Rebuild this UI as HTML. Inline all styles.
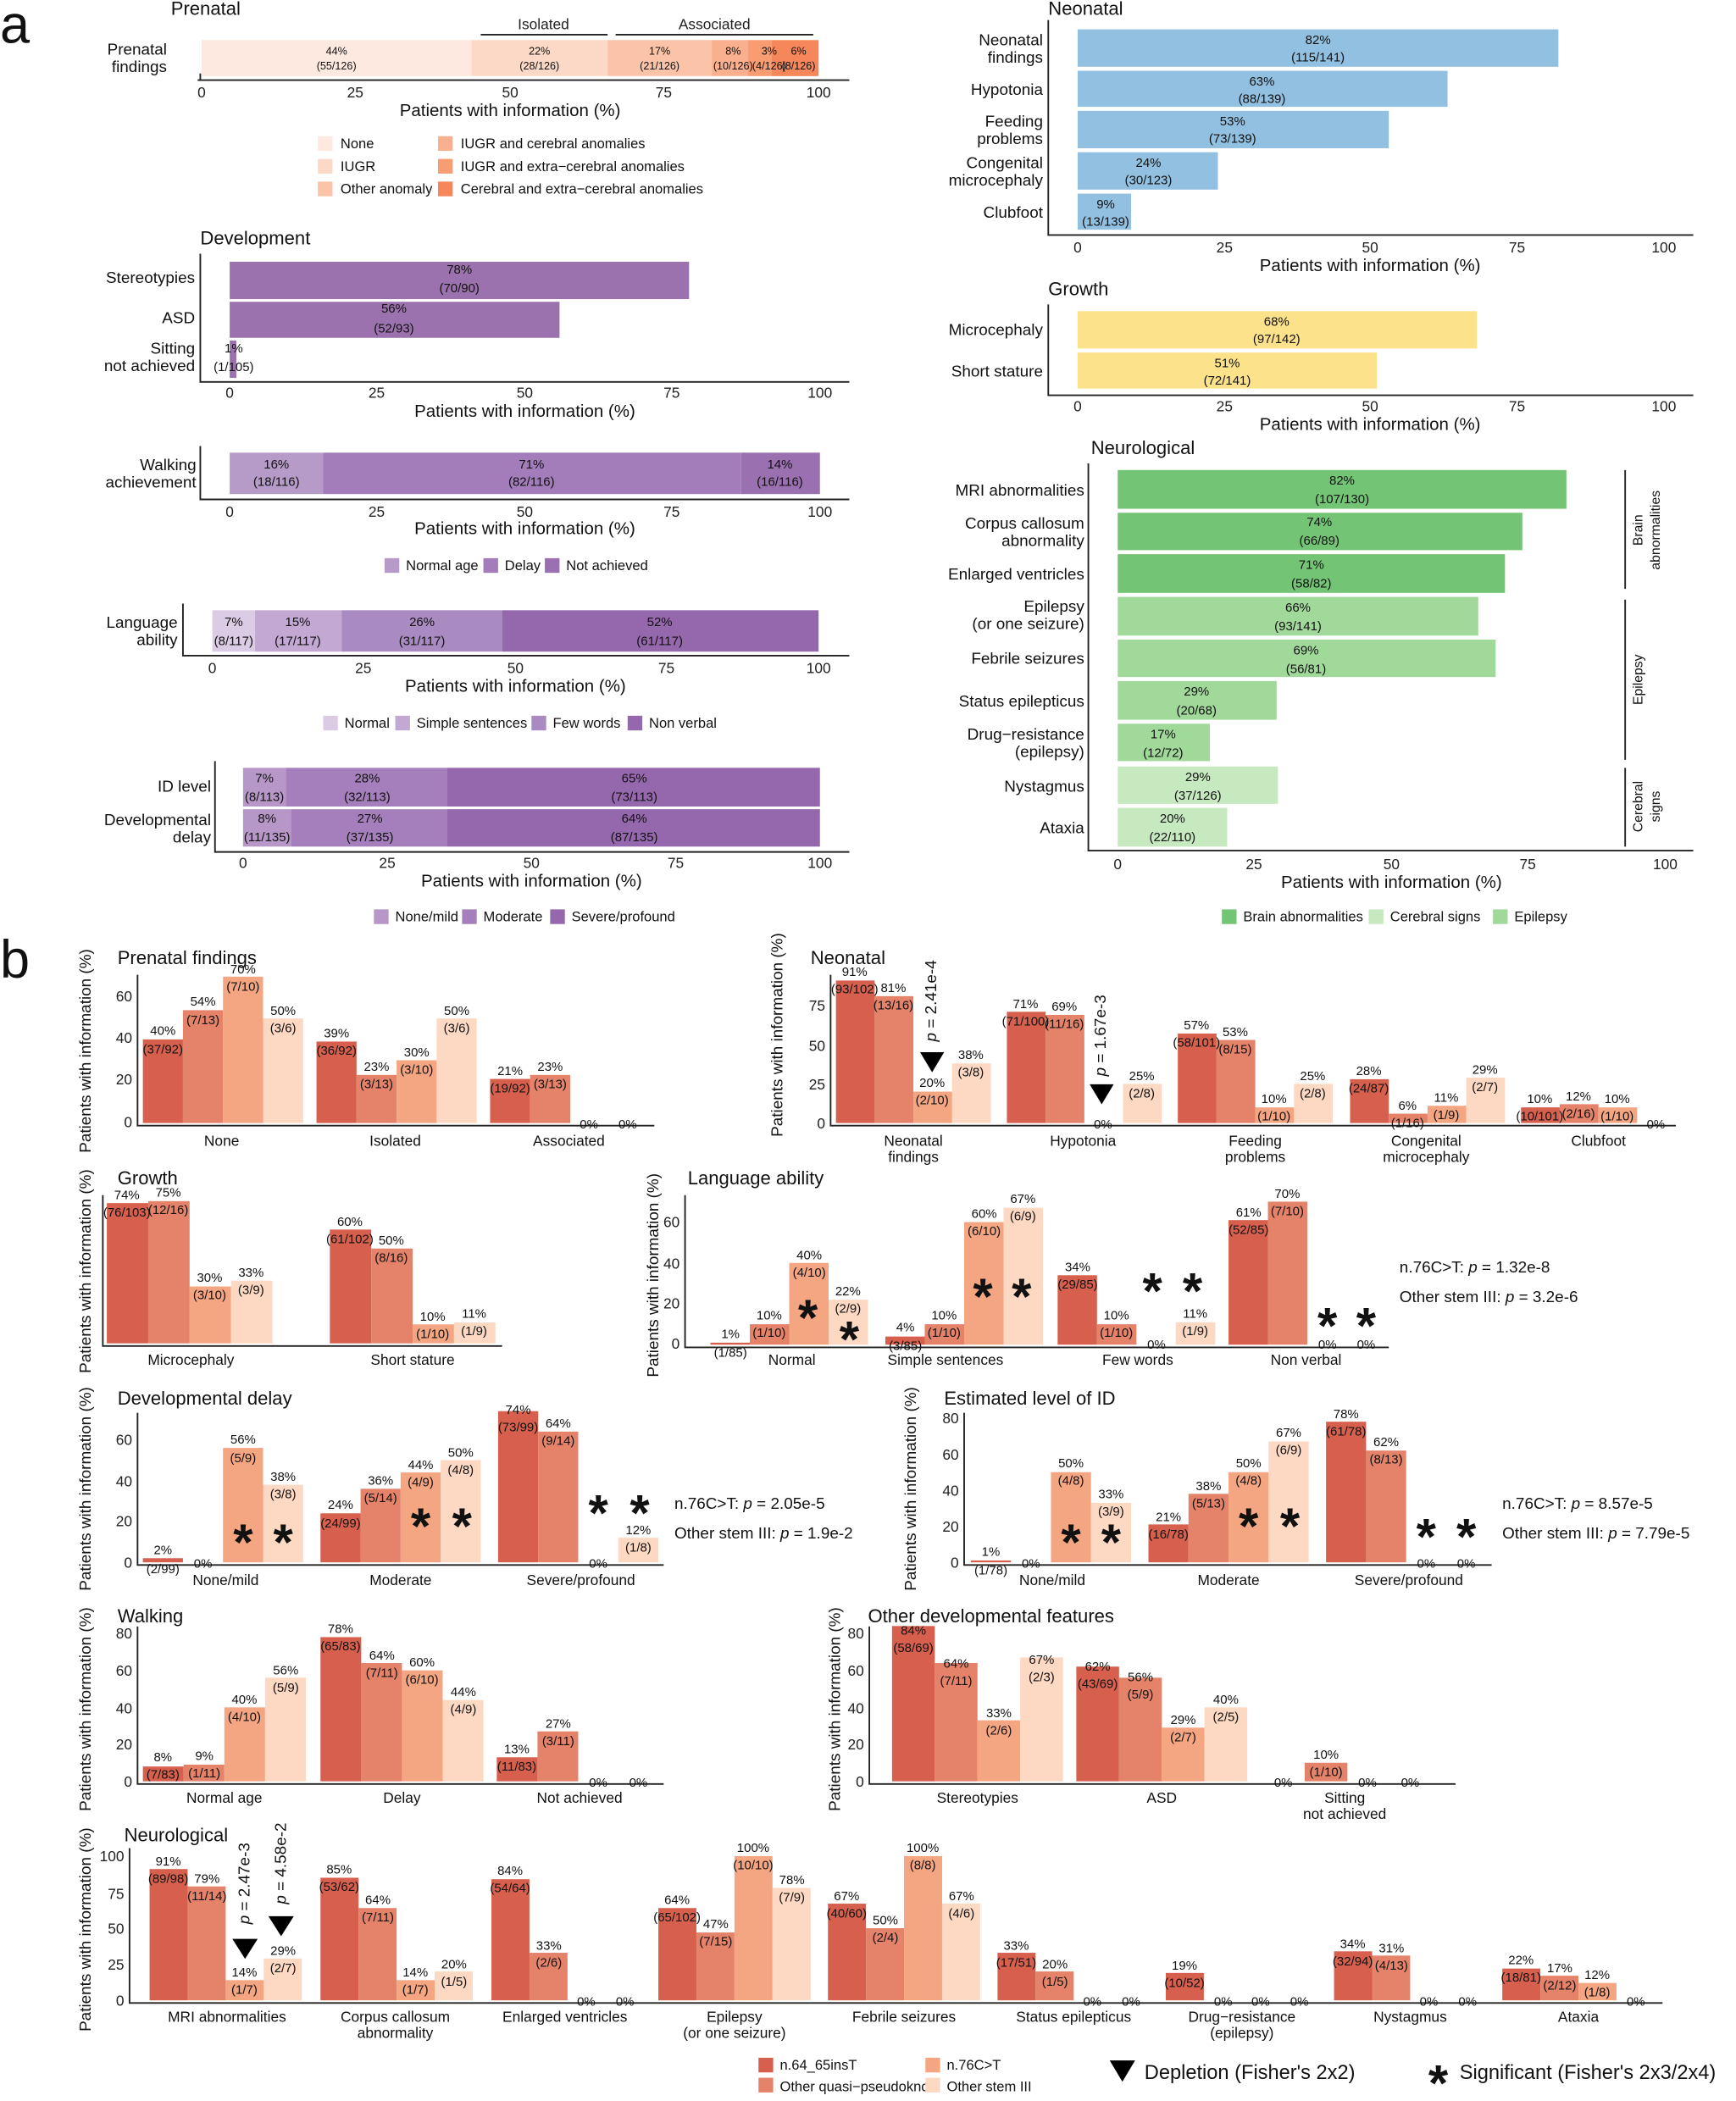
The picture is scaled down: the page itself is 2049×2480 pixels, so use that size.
<!DOCTYPE html>
<html><head><meta charset="utf-8"><style>
html,body{margin:0;padding:0;background:#fff}
svg{display:block}
text{font-family:"Liberation Sans",sans-serif;fill:#111}
.t{font-size:9.5px;text-anchor:middle}
.tk{font-size:11px;text-anchor:middle;fill:#222}
.tkr{font-size:11px;text-anchor:end;fill:#222}
.ti{font-size:14px}
.at{font-size:13px;text-anchor:middle}
.yl{font-size:12px;text-anchor:end}
.cl{font-size:11px;text-anchor:middle}
.lg{font-size:10.5px}
.ax{stroke:#222;stroke-width:1.2;fill:none}
.c1{fill:#d6604d}.c2{fill:#e4836a}.c3{fill:#f4a582}.c4{fill:#fdd8c2}
.pv{font-size:12px}
.ast{font-size:38px;text-anchor:middle;font-weight:bold}
</style></head><body>
<svg width="2049" height="2480" viewBox="0 0 1300 1573.4" preserveAspectRatio="none" xmlns="http://www.w3.org/2000/svg">
<text x="0" y="32" style="font-size:40px">a</text>
<text x="0" y="732" style="font-size:40px">b</text>

<!-- PRENATAL -->
<text class="ti" x="128" y="11">Prenatal</text>
<text class="tk" x="407" y="22">Isolated</text>
<line x1="360" y1="26" x2="455" y2="26" class="ax"/>
<text class="tk" x="535" y="22">Associated</text>
<line x1="461" y1="26" x2="609" y2="26" class="ax"/>
<rect x="151" y="30" width="202" height="27" fill="#fde9df"/>
<rect x="353" y="30" width="102" height="27" fill="#fcd9c6"/>
<rect x="455" y="30" width="78" height="27" fill="#fbc4a8"/>
<rect x="533" y="30" width="27" height="27" fill="#f9b08e"/>
<rect x="560" y="30" width="18" height="27" fill="#f89c72"/>
<rect x="578" y="30" width="35" height="27" fill="#f6875a"/>
<g class="t" style="font-size:8px">
<text class="t" x="252" y="41" style="font-size:8px">44%</text><text class="t" x="252" y="52" style="font-size:8px">(55/126)</text>
<text class="t" x="404" y="41" style="font-size:8px">22%</text><text class="t" x="404" y="52" style="font-size:8px">(28/126)</text>
<text class="t" x="494" y="41" style="font-size:8px">17%</text><text class="t" x="494" y="52" style="font-size:8px">(21/126)</text>
<text class="t" x="549" y="41" style="font-size:8px">8%</text><text class="t" x="549" y="52" style="font-size:8px">(10/126)</text>
<text class="t" x="576" y="41" style="font-size:8px">3%</text><text class="t" x="576" y="52" style="font-size:8px">(4/126)</text>
<text class="t" x="598" y="41" style="font-size:8px">6%</text><text class="t" x="598" y="52" style="font-size:8px">(8/126)</text>
</g>
<line x1="150" y1="55" x2="150" y2="60" class="ax"/>
<path d="M148 60H636" class="ax"/>
<text class="tk" x="151" y="73">0</text><text class="tk" x="266" y="73">25</text><text class="tk" x="382" y="73">50</text><text class="tk" x="497" y="73">75</text><text class="tk" x="613" y="73">100</text>
<text class="at" x="382" y="87">Patients with information (%)</text>
<text class="yl" x="125" y="41">Prenatal</text><text class="yl" x="125" y="54">findings</text>
<rect x="238" y="102" width="11" height="11" fill="#fde9df"/><text class="lg" x="255" y="111">None</text>
<rect x="238" y="119" width="11" height="11" fill="#fcd9c6"/><text class="lg" x="255" y="128">IUGR</text>
<rect x="238" y="136" width="11" height="11" fill="#fbc4a8"/><text class="lg" x="255" y="145">Other anomaly</text>
<rect x="328" y="102" width="11" height="11" fill="#f9b08e"/><text class="lg" x="345" y="111">IUGR and cerebral anomalies</text>
<rect x="328" y="119" width="11" height="11" fill="#f89c72"/><text class="lg" x="345" y="128">IUGR and extra−cerebral anomalies</text>
<rect x="328" y="136" width="11" height="11" fill="#f6875a"/><text class="lg" x="345" y="145">Cerebral and extra−cerebral anomalies</text>

<!-- DEVELOPMENT -->
<text class="ti" x="150" y="183">Development</text>
<rect x="172" y="196" width="344" height="28" fill="#9b72ae"/>
<rect x="172" y="226" width="247" height="27" fill="#9b72ae"/>
<rect x="172" y="255" width="5" height="28" fill="#9b72ae"/>
<text class="t" x="344" y="205">78%</text><text class="t" x="344" y="219">(70/90)</text>
<text class="t" x="295" y="234">56%</text><text class="t" x="295" y="249">(52/93)</text>
<text class="t" x="175" y="264">1%</text><text class="t" x="175" y="278">(1/105)</text>
<path d="M150 190V286H636" class="ax"/>
<text class="tk" x="172" y="298">0</text><text class="tk" x="282" y="298">25</text><text class="tk" x="393" y="298">50</text><text class="tk" x="503" y="298">75</text><text class="tk" x="614" y="298">100</text>
<text class="at" x="393" y="312">Patients with information (%)</text>
<text class="yl" x="146" y="212">Stereotypies</text><text class="yl" x="146" y="242">ASD</text>
<text class="yl" x="146" y="265">Sitting</text><text class="yl" x="146" y="278">not achieved</text>

<!-- WALKING -->
<rect x="172" y="339" width="70" height="31" fill="#b69bc8"/>
<rect x="242" y="339" width="313" height="31" fill="#a27dba"/>
<rect x="555" y="339" width="59" height="31" fill="#9a70b0"/>
<text class="t" x="207" y="351">16%</text><text class="t" x="207" y="364">(18/116)</text>
<text class="t" x="398" y="351">71%</text><text class="t" x="398" y="364">(82/116)</text>
<text class="t" x="584" y="351">14%</text><text class="t" x="584" y="364">(16/116)</text>
<path d="M150 334V374H636" class="ax"/>
<text class="tk" x="172" y="387">0</text><text class="tk" x="282" y="387">25</text><text class="tk" x="393" y="387">50</text><text class="tk" x="503" y="387">75</text><text class="tk" x="614" y="387">100</text>
<text class="at" x="393" y="400">Patients with information (%)</text>
<text class="yl" x="147" y="352">Walking</text><text class="yl" x="147" y="365">achievement</text>
<rect x="288" y="418" width="11" height="11" fill="#b69bc8"/><text class="lg" x="304" y="427">Normal age</text>
<rect x="362" y="418" width="11" height="11" fill="#a27dba"/><text class="lg" x="378" y="427">Delay</text>
<rect x="408" y="418" width="11" height="11" fill="#9a70b0"/><text class="lg" x="424" y="427">Not achieved</text>

<!-- LANGUAGE -->
<rect x="159" y="457" width="32" height="31" fill="#dccbe5"/>
<rect x="191" y="457" width="65" height="31" fill="#c2a8d2"/>
<rect x="256" y="457" width="120" height="31" fill="#a98bc1"/>
<rect x="376" y="457" width="237" height="31" fill="#9567ad"/>
<text class="t" x="175" y="469">7%</text><text class="t" x="175" y="483">(8/117)</text>
<text class="t" x="223" y="469">15%</text><text class="t" x="223" y="483">(17/117)</text>
<text class="t" x="316" y="469">26%</text><text class="t" x="316" y="483">(31/117)</text>
<text class="t" x="494" y="469">52%</text><text class="t" x="494" y="483">(61/117)</text>
<path d="M137 452V491H636" class="ax"/>
<text class="tk" x="159" y="504">0</text><text class="tk" x="272" y="504">25</text><text class="tk" x="386" y="504">50</text><text class="tk" x="499" y="504">75</text><text class="tk" x="613" y="504">100</text>
<text class="at" x="386" y="518">Patients with information (%)</text>
<text class="yl" x="133" y="470">Language</text><text class="yl" x="133" y="483">ability</text>
<rect x="242" y="536" width="11" height="11" fill="#dccbe5"/><text class="lg" x="258" y="545">Normal</text>
<rect x="296" y="536" width="11" height="11" fill="#c2a8d2"/><text class="lg" x="312" y="545">Simple sentences</text>
<rect x="398" y="536" width="11" height="11" fill="#a98bc1"/><text class="lg" x="414" y="545">Few words</text>
<rect x="470" y="536" width="11" height="11" fill="#9567ad"/><text class="lg" x="486" y="545">Non verbal</text>

<!-- ID -->
<rect x="182" y="575" width="32" height="29" fill="#b697c7"/>
<rect x="214" y="575" width="121" height="29" fill="#a47fbb"/>
<rect x="335" y="575" width="279" height="29" fill="#9567ad"/>
<rect x="182" y="606" width="36" height="28" fill="#b697c7"/>
<rect x="218" y="606" width="117" height="28" fill="#a47fbb"/>
<rect x="335" y="606" width="279" height="28" fill="#9567ad"/>
<text class="t" x="198" y="586">7%</text><text class="t" x="198" y="600">(8/113)</text>
<text class="t" x="275" y="586">28%</text><text class="t" x="275" y="600">(32/113)</text>
<text class="t" x="475" y="586">65%</text><text class="t" x="475" y="600">(73/113)</text>
<text class="t" x="200" y="616">8%</text><text class="t" x="200" y="630">(11/135)</text>
<text class="t" x="277" y="616">27%</text><text class="t" x="277" y="630">(37/135)</text>
<text class="t" x="475" y="616">64%</text><text class="t" x="475" y="630">(87/135)</text>
<path d="M161 570V638H636" class="ax"/>
<text class="tk" x="182" y="650">0</text><text class="tk" x="290" y="650">25</text><text class="tk" x="398" y="650">50</text><text class="tk" x="506" y="650">75</text><text class="tk" x="614" y="650">100</text>
<text class="at" x="398" y="664">Patients with information (%)</text>
<text class="yl" x="158" y="593">ID level</text>
<text class="yl" x="158" y="618">Developmental</text><text class="yl" x="158" y="631">delay</text>
<rect x="280" y="681" width="11" height="11" fill="#b697c7"/><text class="lg" x="296" y="690">None/mild</text>
<rect x="346" y="681" width="11" height="11" fill="#a47fbb"/><text class="lg" x="362" y="690">Moderate</text>
<rect x="412" y="681" width="11" height="11" fill="#9567ad"/><text class="lg" x="428" y="690">Severe/profound</text>

<!-- NEONATAL (a) -->
<text class="ti" x="785" y="11">Neonatal</text>
<g fill="#92c0e0">
<rect x="807" y="22" width="360" height="28"/>
<rect x="807" y="53" width="277" height="27"/>
<rect x="807" y="83" width="233" height="28"/>
<rect x="807" y="114" width="105" height="28"/>
<rect x="807" y="145" width="40" height="27"/>
</g>
<text class="t" x="987" y="33">82%</text><text class="t" x="987" y="46">(115/141)</text>
<text class="t" x="945" y="64">63%</text><text class="t" x="945" y="77">(88/139)</text>
<text class="t" x="923" y="94">53%</text><text class="t" x="923" y="107">(73/139)</text>
<text class="t" x="860" y="125">24%</text><text class="t" x="860" y="138">(30/123)</text>
<text class="t" x="828" y="156">9%</text><text class="t" x="828" y="169">(13/139)</text>
<path d="M785 15V176H1268" class="ax"/>
<text class="tk" x="807" y="189">0</text><text class="tk" x="917" y="189">25</text><text class="tk" x="1026" y="189">50</text><text class="tk" x="1136" y="189">75</text><text class="tk" x="1246" y="189">100</text>
<text class="at" x="1026" y="203">Patients with information (%)</text>
<text class="yl" x="781" y="34">Neonatal</text><text class="yl" x="781" y="47">findings</text>
<text class="yl" x="781" y="71">Hypotonia</text>
<text class="yl" x="781" y="95">Feeding</text><text class="yl" x="781" y="108">problems</text>
<text class="yl" x="781" y="126">Congenital</text><text class="yl" x="781" y="139">microcephaly</text>
<text class="yl" x="781" y="163">Clubfoot</text>

<!-- GROWTH (a) -->
<text class="ti" x="785" y="221">Growth</text>
<rect x="807" y="233" width="299" height="28" fill="#fde28c"/>
<rect x="807" y="264" width="224" height="27" fill="#fde28c"/>
<text class="t" x="956" y="244">68%</text><text class="t" x="956" y="257">(97/142)</text>
<text class="t" x="919" y="275">51%</text><text class="t" x="919" y="288">(72/141)</text>
<path d="M785 228V296H1268" class="ax"/>
<text class="tk" x="807" y="308">0</text><text class="tk" x="917" y="308">25</text><text class="tk" x="1026" y="308">50</text><text class="tk" x="1136" y="308">75</text><text class="tk" x="1246" y="308">100</text>
<text class="at" x="1026" y="322">Patients with information (%)</text>
<text class="yl" x="781" y="251">Microcephaly</text><text class="yl" x="781" y="282">Short stature</text>

<!-- NEUROLOGICAL (a) -->
<text class="ti" x="817" y="340">Neurological</text>
<g fill="#74c476">
<rect x="837" y="352" width="336" height="29"/>
<rect x="837" y="384" width="303" height="28"/>
<rect x="837" y="415" width="290" height="29"/>
</g>
<g fill="#a1d99b">
<rect x="837" y="447" width="270" height="29"/>
<rect x="837" y="479" width="283" height="28"/>
<rect x="837" y="510" width="119" height="29"/>
<rect x="837" y="542" width="69" height="28"/>
</g>
<g fill="#c7e9c0">
<rect x="837" y="574" width="120" height="28"/>
<rect x="837" y="605" width="82" height="29"/>
</g>
<text class="t" x="1005" y="363">82%</text><text class="t" x="1005" y="377">(107/130)</text>
<text class="t" x="988" y="394">74%</text><text class="t" x="988" y="408">(66/89)</text>
<text class="t" x="982" y="426">71%</text><text class="t" x="982" y="440">(58/82)</text>
<text class="t" x="972" y="458">66%</text><text class="t" x="972" y="472">(93/141)</text>
<text class="t" x="978" y="490">69%</text><text class="t" x="978" y="504">(56/81)</text>
<text class="t" x="896" y="521">29%</text><text class="t" x="896" y="535">(20/68)</text>
<text class="t" x="871" y="553">17%</text><text class="t" x="871" y="567">(12/72)</text>
<text class="t" x="897" y="585">29%</text><text class="t" x="897" y="599">(37/126)</text>
<text class="t" x="878" y="616">20%</text><text class="t" x="878" y="630">(22/110)</text>
<path d="M815 347V637H1268" class="ax"/>
<text class="tk" x="837" y="651">0</text><text class="tk" x="939" y="651">25</text><text class="tk" x="1042" y="651">50</text><text class="tk" x="1144" y="651">75</text><text class="tk" x="1247" y="651">100</text>
<text class="at" x="1042" y="665">Patients with information (%)</text>
<text class="yl" x="812" y="371">MRI abnormalities</text>
<text class="yl" x="812" y="396">Corpus callosum</text><text class="yl" x="812" y="409">abnormality</text>
<text class="yl" x="812" y="434">Enlarged ventricles</text>
<text class="yl" x="812" y="458">Epilepsy</text><text class="yl" x="812" y="471">(or one seizure)</text>
<text class="yl" x="812" y="497">Febrile seizures</text>
<text class="yl" x="812" y="529">Status epilepticus</text>
<text class="yl" x="812" y="554">Drug−resistance</text><text class="yl" x="812" y="567">(epilepsy)</text>
<text class="yl" x="812" y="593">Nystagmus</text>
<text class="yl" x="812" y="624">Ataxia</text>
<line x1="1217" y1="352" x2="1217" y2="441" class="ax"/>
<line x1="1217" y1="449" x2="1217" y2="569" class="ax"/>
<line x1="1217" y1="575" x2="1217" y2="634" class="ax"/>
<text transform="translate(1230,397) rotate(-90)" style="font-size:10px;text-anchor:middle">Brain</text>
<text transform="translate(1243,397) rotate(-90)" style="font-size:10px;text-anchor:middle">abnormalities</text>
<text transform="translate(1230,509) rotate(-90)" style="font-size:10px;text-anchor:middle">Epilepsy</text>
<text transform="translate(1230,604) rotate(-90)" style="font-size:10px;text-anchor:middle">Cerebral</text>
<text transform="translate(1243,604) rotate(-90)" style="font-size:10px;text-anchor:middle">signs</text>
<rect x="915" y="681" width="11" height="11" fill="#74c476"/><text class="lg" x="931" y="690">Brain abnormalities</text>
<rect x="1025" y="681" width="11" height="11" fill="#c7e9c0"/><text class="lg" x="1041" y="690">Cerebral signs</text>
<rect x="1118" y="681" width="11" height="11" fill="#a1d99b"/><text class="lg" x="1134" y="690">Epilepsy</text>

<!-- ===== PANEL B ===== -->
<!-- B1 Prenatal findings -->
<text class="ti" x="88" y="722">Prenatal findings</text>
<text transform="translate(68,787) rotate(-90)" class="at" style="font-size:12px">Patients with information (%)</text>
<path d="M103 730V843H490" class="ax"/>
<text class="tkr" x="99" y="750">60</text><text class="tkr" x="99" y="781">40</text><text class="tkr" x="99" y="812">20</text><text class="tkr" x="99" y="844">0</text>
<rect class="c1" x="107" y="778.4" width="30" height="62.6"/><rect class="c2" x="137" y="756.5" width="30" height="84.5"/><rect class="c3" x="167" y="731.4" width="30" height="109.6"/><rect class="c4" x="197" y="762.7" width="30" height="78.3"/>
<text class="t" x="122" y="775">40%</text><text class="t" x="122" y="789">(37/92)</text>
<text class="t" x="152" y="753">54%</text><text class="t" x="152" y="767">(7/13)</text>
<text class="t" x="182" y="729">70%</text><text class="t" x="182" y="742">(7/10)</text>
<text class="t" x="212" y="760">50%</text><text class="t" x="212" y="773">(3/6)</text>
<rect class="c1" x="237" y="780" width="30" height="61"/><rect class="c2" x="267" y="805" width="30" height="36"/><rect class="c3" x="297" y="794" width="30" height="47"/><rect class="c4" x="327" y="762.7" width="30" height="78.3"/>
<text class="t" x="252" y="777">39%</text><text class="t" x="252" y="790">(36/92)</text>
<text class="t" x="282" y="802">23%</text><text class="t" x="282" y="815">(3/13)</text>
<text class="t" x="312" y="791">30%</text><text class="t" x="312" y="804">(3/10)</text>
<text class="t" x="342" y="760">50%</text><text class="t" x="342" y="773">(3/6)</text>
<rect class="c1" x="367" y="808" width="30" height="33"/><rect class="c2" x="397" y="805" width="30" height="36"/>
<text class="t" x="382" y="805">21%</text><text class="t" x="382" y="818">(19/92)</text>
<text class="t" x="412" y="802">23%</text><text class="t" x="412" y="815">(3/13)</text>
<text class="t" x="441" y="845">0%</text><text class="t" x="470" y="845">0%</text>
<text class="cl" x="166" y="858">None</text><text class="cl" x="296" y="858">Isolated</text><text class="cl" x="426" y="858">Associated</text>

<!-- B2 Neonatal -->
<text class="ti" x="607" y="722">Neonatal</text>
<text transform="translate(586,775) rotate(-90)" class="at" style="font-size:12px">Patients with information (%)</text>
<path d="M622 730V843H1255" class="ax"/>
<text class="tkr" x="618" y="757">75</text><text class="tkr" x="618" y="787">50</text><text class="tkr" x="618" y="816">25</text><text class="tkr" x="618" y="845">0</text>
<rect class="c1" x="626" y="734.3" width="29" height="106.7"/><rect class="c2" x="655" y="746" width="29" height="95"/><rect class="c3" x="684" y="817.5" width="29" height="23.5"/><rect class="c4" x="713" y="796.4" width="29" height="44.6"/>
<text class="t" x="640" y="731">91%</text><text class="t" x="640" y="744">(93/102)</text>
<text class="t" x="669" y="743">81%</text><text class="t" x="669" y="756">(13/16)</text>
<text class="t" x="698" y="814">20%</text><text class="t" x="698" y="827">(2/10)</text>
<text class="t" x="727" y="793">38%</text><text class="t" x="727" y="806">(3/8)</text>
<path d="M689 788H707L698 803Z" fill="#000"/>
<text transform="translate(701,780) rotate(-90)" class="pv"><tspan font-style="italic">p</tspan> = 2.41e-4</text>
<rect class="c1" x="754" y="757.7" width="29" height="83.3"/><rect class="c2" x="783" y="760" width="29" height="81"/><rect class="c4" x="841" y="811.7" width="29" height="29.3"/>
<text class="t" x="768" y="755">71%</text><text class="t" x="768" y="768">(71/100)</text>
<text class="t" x="797" y="757">69%</text><text class="t" x="797" y="770">(11/16)</text>
<text class="t" x="826" y="845">0%</text>
<text class="t" x="855" y="809">25%</text><text class="t" x="855" y="822">(2/8)</text>
<path d="M816 812H834L825 827Z" fill="#000"/>
<text transform="translate(828,806) rotate(-90)" class="pv"><tspan font-style="italic">p</tspan> = 1.67e-3</text>
<rect class="c1" x="882" y="774" width="29" height="67"/><rect class="c2" x="911" y="778.8" width="29" height="62.2"/><rect class="c3" x="940" y="829.3" width="29" height="11.7"/><rect class="c4" x="969" y="811.7" width="29" height="29.3"/>
<text class="t" x="896" y="771">57%</text><text class="t" x="896" y="784">(58/101)</text>
<text class="t" x="925" y="776">53%</text><text class="t" x="925" y="789">(8/15)</text>
<text class="t" x="954" y="826">10%</text><text class="t" x="954" y="839">(1/10)</text>
<text class="t" x="983" y="809">25%</text><text class="t" x="983" y="822">(2/8)</text>
<rect class="c1" x="1011" y="808.2" width="29" height="32.8"/><rect class="c2" x="1040" y="834" width="29" height="7"/><rect class="c3" x="1069" y="828.1" width="29" height="12.9"/><rect class="c4" x="1098" y="807" width="29" height="34"/>
<text class="t" x="1025" y="805">28%</text><text class="t" x="1025" y="818">(24/87)</text>
<text class="t" x="1054" y="831">6%</text><text class="t" x="1054" y="844">(1/16)</text>
<text class="t" x="1083" y="825">11%</text><text class="t" x="1083" y="838">(1/9)</text>
<text class="t" x="1112" y="804">29%</text><text class="t" x="1112" y="817">(2/7)</text>
<rect class="c1" x="1139" y="829.3" width="29" height="11.7"/><rect class="c2" x="1168" y="826.9" width="29" height="14.1"/><rect class="c3" x="1197" y="829.3" width="29" height="11.7"/>
<text class="t" x="1153" y="826">10%</text><text class="t" x="1153" y="839">(10/101)</text>
<text class="t" x="1182" y="824">12%</text><text class="t" x="1182" y="837">(2/16)</text>
<text class="t" x="1211" y="826">10%</text><text class="t" x="1211" y="839">(1/10)</text>
<text class="t" x="1240" y="845">0%</text>
<text class="cl" x="684" y="858">Neonatal</text><text class="cl" x="684" y="870">findings</text>
<text class="cl" x="811" y="858">Hypotonia</text>
<text class="cl" x="940" y="858">Feeding</text><text class="cl" x="940" y="870">problems</text>
<text class="cl" x="1068" y="858">Congenital</text><text class="cl" x="1068" y="870">microcephaly</text>
<text class="cl" x="1197" y="858">Clubfoot</text>

<!-- B3 Growth -->
<text class="ti" x="88" y="887">Growth</text>
<text transform="translate(68,952) rotate(-90)" class="at" style="font-size:12px">Patients with information (%)</text>
<path d="M77 895V1008H376" class="ax"/>
<rect class="c1" x="80" y="901" width="31" height="105"/><rect class="c2" x="111" y="899.5" width="31" height="106.5"/><rect class="c3" x="142" y="963.4" width="31" height="42.6"/><rect class="c4" x="173" y="959.1" width="31" height="46.9"/>
<text class="t" x="95" y="898">74%</text><text class="t" x="95" y="911">(76/103)</text>
<text class="t" x="126" y="896">75%</text><text class="t" x="126" y="909">(12/16)</text>
<text class="t" x="157" y="960">30%</text><text class="t" x="157" y="973">(3/10)</text>
<text class="t" x="188" y="956">33%</text><text class="t" x="188" y="969">(3/9)</text>
<rect class="c1" x="247" y="920.8" width="31" height="85.2"/><rect class="c2" x="278" y="935" width="31" height="71"/><rect class="c3" x="309" y="991.8" width="31" height="14.2"/><rect class="c4" x="340" y="990.4" width="31" height="15.6"/>
<text class="t" x="262" y="918">60%</text><text class="t" x="262" y="931">(61/102)</text>
<text class="t" x="293" y="932">50%</text><text class="t" x="293" y="945">(8/16)</text>
<text class="t" x="324" y="989">10%</text><text class="t" x="324" y="1002">(1/10)</text>
<text class="t" x="355" y="987">11%</text><text class="t" x="355" y="1000">(1/9)</text>
<text class="cl" x="143" y="1022">Microcephaly</text><text class="cl" x="309" y="1022">Short stature</text>

<!-- B4 Language -->
<text class="ti" x="515" y="887">Language ability</text>
<text transform="translate(493,955) rotate(-90)" class="at" style="font-size:12px">Patients with information (%)</text>
<path d="M513 895V1009H1040" class="ax"/>
<text class="tkr" x="509" y="919">60</text><text class="tkr" x="509" y="950">40</text><text class="tkr" x="509" y="980">20</text><text class="tkr" x="509" y="1010">0</text>
<rect class="c1" x="532" y="1005.5" width="29.5" height="1.5"/><rect class="c2" x="561.5" y="991.7" width="29.5" height="15.3"/><rect class="c3" x="591" y="945.8" width="29.5" height="61.2"/><rect class="c4" x="620.5" y="973.3" width="29.5" height="33.7"/>
<text class="t" x="547" y="1002">1%</text><text class="t" x="547" y="1016">(1/85)</text>
<text class="t" x="576" y="988">10%</text><text class="t" x="576" y="1001">(1/10)</text>
<text class="t" x="606" y="943">40%</text><text class="t" x="606" y="956">(4/10)</text>
<text class="t" x="635" y="970">22%</text><text class="t" x="635" y="983">(2/9)</text>
<rect class="c1" x="663" y="1000.9" width="29.5" height="6.1"/><rect class="c2" x="692.5" y="991.7" width="29.5" height="15.3"/><rect class="c3" x="722" y="915.2" width="29.5" height="91.8"/><rect class="c4" x="751.5" y="904.5" width="29.5" height="102.5"/>
<text class="t" x="678" y="997">4%</text><text class="t" x="678" y="1011">(3/85)</text>
<text class="t" x="707" y="988">10%</text><text class="t" x="707" y="1001">(1/10)</text>
<text class="t" x="737" y="912">60%</text><text class="t" x="737" y="925">(6/10)</text>
<text class="t" x="766" y="901">67%</text><text class="t" x="766" y="914">(6/9)</text>
<rect class="c1" x="792" y="955" width="29.5" height="52"/><rect class="c2" x="821.5" y="991.7" width="29.5" height="15.3"/><rect class="c4" x="880.5" y="990.2" width="29.5" height="16.8"/>
<text class="t" x="807" y="952">34%</text><text class="t" x="807" y="965">(29/85)</text>
<text class="t" x="836" y="988">10%</text><text class="t" x="836" y="1001">(1/10)</text>
<text class="t" x="866" y="1010">0%</text>
<text class="t" x="895" y="987">11%</text><text class="t" x="895" y="1000">(1/9)</text>
<rect class="c1" x="920" y="913.7" width="29.5" height="93.3"/><rect class="c2" x="949.5" y="899.9" width="29.5" height="107.1"/>
<text class="t" x="935" y="911">61%</text><text class="t" x="935" y="924">(52/85)</text>
<text class="t" x="964" y="897">70%</text><text class="t" x="964" y="910">(7/10)</text>
<text class="t" x="994" y="1010">0%</text><text class="t" x="1023" y="1010">0%</text>
<text class="ast" x="605" y="1000">*</text><text class="ast" x="636" y="1016">*</text>
<text class="ast" x="736" y="984">*</text><text class="ast" x="765" y="984">*</text>
<text class="ast" x="863" y="980">*</text><text class="ast" x="893" y="980">*</text>
<text class="ast" x="994" y="1006">*</text><text class="ast" x="1023" y="1006">*</text>
<text class="cl" x="593" y="1022">Normal</text><text class="cl" x="708" y="1022">Simple sentences</text><text class="cl" x="852" y="1022">Few words</text><text class="cl" x="978" y="1022">Non verbal</text>
<text class="pv" x="1048" y="953">n.76C&gt;T: <tspan font-style="italic">p</tspan> = 1.32e-8</text>
<text class="pv" x="1048" y="975">Other stem III: <tspan font-style="italic">p</tspan> = 3.2e-6</text>

<!-- B5 Developmental delay -->
<text class="ti" x="88" y="1052">Developmental delay</text>
<text transform="translate(68,1115) rotate(-90)" class="at" style="font-size:12px">Patients with information (%)</text>
<path d="M103 1058V1172H497" class="ax"/>
<text class="tkr" x="99" y="1082">60</text><text class="tkr" x="99" y="1113">40</text><text class="tkr" x="99" y="1143">20</text><text class="tkr" x="99" y="1174">0</text>
<rect class="c1" x="107" y="1166.9" width="30" height="3.1"/><rect class="c3" x="167" y="1084.3" width="30" height="85.7"/><rect class="c4" x="197" y="1111.9" width="30" height="58.1"/>
<text class="t" x="122" y="1164">2%</text><text class="t" x="122" y="1178">(2/99)</text>
<text class="t" x="152" y="1174">0%</text>
<text class="t" x="182" y="1081">56%</text><text class="t" x="182" y="1095">(5/9)</text>
<text class="t" x="212" y="1109">38%</text><text class="t" x="212" y="1122">(3/8)</text>
<rect class="c1" x="240" y="1133.3" width="30" height="36.7"/><rect class="c2" x="270" y="1114.9" width="30" height="55.1"/><rect class="c3" x="300" y="1102.7" width="30" height="67.3"/><rect class="c4" x="330" y="1093.5" width="30" height="76.5"/>
<text class="t" x="255" y="1130">24%</text><text class="t" x="255" y="1144">(24/99)</text>
<text class="t" x="285" y="1112">36%</text><text class="t" x="285" y="1125">(5/14)</text>
<text class="t" x="315" y="1100">44%</text><text class="t" x="315" y="1113">(4/9)</text>
<text class="t" x="345" y="1091">50%</text><text class="t" x="345" y="1104">(4/8)</text>
<rect class="c1" x="373" y="1056.8" width="30" height="113.2"/><rect class="c2" x="403" y="1072.1" width="30" height="97.9"/><rect class="c4" x="463" y="1151.6" width="30" height="18.4"/>
<text class="t" x="388" y="1059">74%</text><text class="t" x="388" y="1072">(73/99)</text>
<text class="t" x="418" y="1069">64%</text><text class="t" x="418" y="1082">(9/14)</text>
<text class="t" x="448" y="1174">0%</text>
<text class="t" x="478" y="1149">12%</text><text class="t" x="478" y="1162">(1/8)</text>
<text class="ast" x="182" y="1168">*</text><text class="ast" x="212" y="1168">*</text>
<text class="ast" x="315" y="1156">*</text><text class="ast" x="346" y="1156">*</text>
<text class="ast" x="448" y="1146">*</text><text class="ast" x="479" y="1146">*</text>
<text class="cl" x="169" y="1187">None/mild</text><text class="cl" x="300" y="1187">Moderate</text><text class="cl" x="435" y="1187">Severe/profound</text>
<text class="pv" x="505" y="1130">n.76C&gt;T: <tspan font-style="italic">p</tspan> = 2.05e-5</text>
<text class="pv" x="505" y="1152">Other stem III: <tspan font-style="italic">p</tspan> = 1.9e-2</text>

<!-- B6 ID -->
<text class="ti" x="707" y="1052">Estimated level of ID</text>
<text transform="translate(686,1115) rotate(-90)" class="at" style="font-size:12px">Patients with information (%)</text>
<path d="M722 1058V1172H1117" class="ax"/>
<text class="tkr" x="718" y="1066">80</text><text class="tkr" x="718" y="1093">60</text><text class="tkr" x="718" y="1120">40</text><text class="tkr" x="718" y="1147">20</text><text class="tkr" x="718" y="1174">0</text>
<rect class="c1" x="727" y="1168.6" width="30" height="1.4"/><rect class="c3" x="787" y="1102.5" width="30" height="67.5"/><rect class="c4" x="817" y="1125.4" width="30" height="44.6"/>
<text class="t" x="742" y="1165">1%</text><text class="t" x="742" y="1179">(1/78)</text>
<text class="t" x="772" y="1174">0%</text>
<text class="t" x="802" y="1099">50%</text><text class="t" x="802" y="1112">(4/8)</text>
<text class="t" x="832" y="1122">33%</text><text class="t" x="832" y="1135">(3/9)</text>
<rect class="c1" x="860" y="1141.6" width="30" height="28.4"/><rect class="c2" x="890" y="1118.7" width="30" height="51.3"/><rect class="c3" x="920" y="1102.5" width="30" height="67.5"/><rect class="c4" x="950" y="1079.5" width="30" height="90.5"/>
<text class="t" x="875" y="1139">21%</text><text class="t" x="875" y="1152">(16/78)</text>
<text class="t" x="905" y="1116">38%</text><text class="t" x="905" y="1129">(5/13)</text>
<text class="t" x="935" y="1099">50%</text><text class="t" x="935" y="1112">(4/8)</text>
<text class="t" x="965" y="1076">67%</text><text class="t" x="965" y="1089">(6/9)</text>
<rect class="c1" x="993" y="1064.7" width="30" height="105.3"/><rect class="c2" x="1023" y="1086.3" width="30" height="83.7"/>
<text class="t" x="1008" y="1062">78%</text><text class="t" x="1008" y="1075">(61/78)</text>
<text class="t" x="1038" y="1083">62%</text><text class="t" x="1038" y="1096">(8/13)</text>
<text class="t" x="1068" y="1174">0%</text><text class="t" x="1098" y="1174">0%</text>
<text class="ast" x="802" y="1168">*</text><text class="ast" x="832" y="1168">*</text>
<text class="ast" x="935" y="1156">*</text><text class="ast" x="966" y="1156">*</text>
<text class="ast" x="1068" y="1164">*</text><text class="ast" x="1098" y="1164">*</text>
<text class="cl" x="788" y="1187">None/mild</text><text class="cl" x="920" y="1187">Moderate</text><text class="cl" x="1055" y="1187">Severe/profound</text>
<text class="pv" x="1125" y="1130">n.76C&gt;T: <tspan font-style="italic">p</tspan> = 8.57e-5</text>
<text class="pv" x="1125" y="1152">Other stem III: <tspan font-style="italic">p</tspan> = 7.79e-5</text>

<!-- B7 Walking -->
<text class="ti" x="88" y="1215">Walking</text>
<text transform="translate(68,1280) rotate(-90)" class="at" style="font-size:12px">Patients with information (%)</text>
<path d="M103 1218V1336H497" class="ax"/>
<text class="tkr" x="99" y="1227">80</text><text class="tkr" x="99" y="1255">60</text><text class="tkr" x="99" y="1283">40</text><text class="tkr" x="99" y="1310">20</text><text class="tkr" x="99" y="1338">0</text>
<rect class="c1" x="107" y="1322.9" width="30.5" height="11.1"/><rect class="c2" x="137.5" y="1321.5" width="30.5" height="12.5"/><rect class="c3" x="168" y="1278.6" width="30.5" height="55.4"/><rect class="c4" x="198.5" y="1256.4" width="30.5" height="77.6"/>
<text class="t" x="122" y="1319">8%</text><text class="t" x="122" y="1332">(7/83)</text>
<text class="t" x="153" y="1318">9%</text><text class="t" x="153" y="1331">(1/11)</text>
<text class="t" x="183" y="1276">40%</text><text class="t" x="183" y="1289">(4/10)</text>
<text class="t" x="214" y="1254">56%</text><text class="t" x="214" y="1267">(5/9)</text>
<rect class="c1" x="240" y="1226" width="30.5" height="108"/><rect class="c2" x="270.5" y="1245.4" width="30.5" height="88.6"/><rect class="c3" x="301" y="1250.9" width="30.5" height="83.1"/><rect class="c4" x="331.5" y="1273.1" width="30.5" height="60.9"/>
<text class="t" x="255" y="1223">78%</text><text class="t" x="255" y="1236">(65/83)</text>
<text class="t" x="286" y="1243">64%</text><text class="t" x="286" y="1256">(7/11)</text>
<text class="t" x="316" y="1248">60%</text><text class="t" x="316" y="1261">(6/10)</text>
<text class="t" x="347" y="1270">44%</text><text class="t" x="347" y="1283">(4/9)</text>
<rect class="c1" x="372" y="1316" width="30.5" height="18"/><rect class="c2" x="402.5" y="1296.6" width="30.5" height="37.4"/>
<text class="t" x="387" y="1313">13%</text><text class="t" x="387" y="1326">(11/83)</text>
<text class="t" x="418" y="1294">27%</text><text class="t" x="418" y="1307">(3/11)</text>
<text class="t" x="448" y="1338">0%</text><text class="t" x="478" y="1338">0%</text>
<text class="cl" x="168" y="1350">Normal age</text><text class="cl" x="301" y="1350">Delay</text><text class="cl" x="434" y="1350">Not achieved</text>

<!-- B8 Other dev -->
<text class="ti" x="650" y="1215">Other developmental features</text>
<text transform="translate(629,1280) rotate(-90)" class="at" style="font-size:12px">Patients with information (%)</text>
<path d="M651 1218V1336H1090" class="ax"/>
<text class="tkr" x="647" y="1227">80</text><text class="tkr" x="647" y="1255">60</text><text class="tkr" x="647" y="1283">40</text><text class="tkr" x="647" y="1310">20</text><text class="tkr" x="647" y="1338">0</text>
<rect class="c1" x="668" y="1217.7" width="32" height="116.3"/><rect class="c2" x="700" y="1245.4" width="32" height="88.6"/><rect class="c3" x="732" y="1288.3" width="32" height="45.7"/><rect class="c4" x="764" y="1241.2" width="32" height="92.8"/>
<text class="t" x="684" y="1224">84%</text><text class="t" x="684" y="1237">(58/69)</text>
<text class="t" x="716" y="1249">64%</text><text class="t" x="716" y="1262">(7/11)</text>
<text class="t" x="748" y="1286">33%</text><text class="t" x="748" y="1299">(2/6)</text>
<text class="t" x="780" y="1246">67%</text><text class="t" x="780" y="1259">(2/3)</text>
<rect class="c1" x="806" y="1248.1" width="32" height="85.9"/><rect class="c2" x="838" y="1256.4" width="32" height="77.6"/><rect class="c3" x="870" y="1293.8" width="32" height="40.2"/><rect class="c4" x="902" y="1278.6" width="32" height="55.4"/>
<text class="t" x="822" y="1251">62%</text><text class="t" x="822" y="1264">(43/69)</text>
<text class="t" x="854" y="1259">56%</text><text class="t" x="854" y="1272">(5/9)</text>
<text class="t" x="886" y="1291">29%</text><text class="t" x="886" y="1304">(2/7)</text>
<text class="t" x="918" y="1276">40%</text><text class="t" x="918" y="1289">(2/5)</text>
<rect class="c2" x="977" y="1320.1" width="32" height="13.9"/>
<text class="t" x="961" y="1338">0%</text>
<text class="t" x="993" y="1317">10%</text><text class="t" x="993" y="1330">(1/10)</text>
<text class="t" x="1024" y="1338">0%</text><text class="t" x="1056" y="1338">0%</text>
<text class="cl" x="732" y="1350">Stereotypies</text><text class="cl" x="870" y="1350">ASD</text>
<text class="cl" x="1007" y="1350">Sitting</text><text class="cl" x="1007" y="1362">not achieved</text>

<!-- B9 Neurological -->
<text class="ti" x="93" y="1379">Neurological</text>
<text transform="translate(68,1445) rotate(-90)" class="at" style="font-size:12px">Patients with information (%)</text>
<path d="M97 1384V1500H1245" class="ax"/>
<text class="tkr" x="93" y="1394">100</text><text class="tkr" x="93" y="1422">75</text><text class="tkr" x="93" y="1448">50</text><text class="tkr" x="93" y="1475">25</text><text class="tkr" x="93" y="1502">0</text>
<!-- MRI -->
<rect class="c1" x="112" y="1399.7" width="28.5" height="98.3"/><rect class="c2" x="140.5" y="1412.7" width="28.5" height="85.3"/><rect class="c3" x="169" y="1482.9" width="28.5" height="15.1"/><rect class="c4" x="197.5" y="1466.7" width="28.5" height="31.3"/>
<text class="t" x="126" y="1397">91%</text><text class="t" x="126" y="1410">(89/98)</text>
<text class="t" x="155" y="1410">79%</text><text class="t" x="155" y="1423">(11/14)</text>
<text class="t" x="183" y="1480">14%</text><text class="t" x="183" y="1493">(1/7)</text>
<text class="t" x="212" y="1464">29%</text><text class="t" x="212" y="1477">(2/7)</text>
<path d="M174 1452H193L183.5 1467Z" fill="#000"/>
<path d="M201 1435H220L210.5 1450Z" fill="#000"/>
<text transform="translate(187,1441) rotate(-90)" class="pv"><tspan font-style="italic">p</tspan> = 2.47e-3</text>
<text transform="translate(214,1426) rotate(-90)" class="pv"><tspan font-style="italic">p</tspan> = 4.58e-2</text>
<!-- Corpus -->
<rect class="c1" x="240" y="1406.2" width="28.5" height="91.8"/><rect class="c2" x="268.5" y="1428.9" width="28.5" height="69.1"/><rect class="c3" x="297" y="1482.9" width="28.5" height="15.1"/><rect class="c4" x="325.5" y="1476.4" width="28.5" height="21.6"/>
<text class="t" x="254" y="1403">85%</text><text class="t" x="254" y="1416">(53/62)</text>
<text class="t" x="283" y="1426">64%</text><text class="t" x="283" y="1439">(7/11)</text>
<text class="t" x="311" y="1480">14%</text><text class="t" x="311" y="1493">(1/7)</text>
<text class="t" x="340" y="1474">20%</text><text class="t" x="340" y="1487">(1/5)</text>
<!-- Enlarged -->
<rect class="c1" x="368" y="1407.3" width="28.5" height="90.7"/><rect class="c2" x="396.5" y="1462.4" width="28.5" height="35.6"/>
<text class="t" x="382" y="1404">84%</text><text class="t" x="382" y="1417">(54/64)</text>
<text class="t" x="411" y="1460">33%</text><text class="t" x="411" y="1473">(2/6)</text>
<text class="t" x="439" y="1502">0%</text><text class="t" x="468" y="1502">0%</text>
<!-- Epilepsy -->
<rect class="c1" x="493" y="1428.9" width="28.5" height="69.1"/><rect class="c2" x="521.5" y="1447.2" width="28.5" height="50.8"/><rect class="c3" x="550" y="1390" width="28.5" height="108"/><rect class="c4" x="578.5" y="1413.8" width="28.5" height="84.2"/>
<text class="t" x="507" y="1426">64%</text><text class="t" x="507" y="1439">(65/102)</text>
<text class="t" x="536" y="1444">47%</text><text class="t" x="536" y="1457">(7/15)</text>
<text class="t" x="564" y="1387">100%</text><text class="t" x="564" y="1400">(10/10)</text>
<text class="t" x="593" y="1411">78%</text><text class="t" x="593" y="1424">(7/9)</text>
<!-- Febrile -->
<rect class="c1" x="620" y="1425.6" width="28.5" height="72.4"/><rect class="c2" x="648.5" y="1444" width="28.5" height="54"/><rect class="c3" x="677" y="1390" width="28.5" height="108"/><rect class="c4" x="705.5" y="1425.6" width="28.5" height="72.4"/>
<text class="t" x="634" y="1423">67%</text><text class="t" x="634" y="1436">(40/60)</text>
<text class="t" x="663" y="1441">50%</text><text class="t" x="663" y="1454">(2/4)</text>
<text class="t" x="691" y="1387">100%</text><text class="t" x="691" y="1400">(8/8)</text>
<text class="t" x="720" y="1423">67%</text><text class="t" x="720" y="1436">(4/6)</text>
<!-- Status -->
<rect class="c1" x="747" y="1462.4" width="28.5" height="35.6"/><rect class="c2" x="775.5" y="1476.4" width="28.5" height="21.6"/>
<text class="t" x="761" y="1460">33%</text><text class="t" x="761" y="1473">(17/51)</text>
<text class="t" x="790" y="1474">20%</text><text class="t" x="790" y="1487">(1/5)</text>
<text class="t" x="818" y="1502">0%</text><text class="t" x="847" y="1502">0%</text>
<!-- Drug -->
<rect class="c1" x="873" y="1477.5" width="28.5" height="20.5"/>
<text class="t" x="887" y="1475">19%</text><text class="t" x="887" y="1488">(10/52)</text>
<text class="t" x="916" y="1502">0%</text><text class="t" x="944" y="1502">0%</text><text class="t" x="973" y="1502">0%</text>
<!-- Nystagmus -->
<rect class="c1" x="999" y="1461.3" width="28.5" height="36.7"/><rect class="c2" x="1027.5" y="1464.5" width="28.5" height="33.5"/>
<text class="t" x="1013" y="1459">34%</text><text class="t" x="1013" y="1472">(32/94)</text>
<text class="t" x="1042" y="1462">31%</text><text class="t" x="1042" y="1475">(4/13)</text>
<text class="t" x="1070" y="1502">0%</text><text class="t" x="1099" y="1502">0%</text>
<!-- Ataxia -->
<rect class="c1" x="1125" y="1474.2" width="28.5" height="23.8"/><rect class="c2" x="1153.5" y="1479.6" width="28.5" height="18.4"/><rect class="c3" x="1182" y="1485" width="28.5" height="13"/>
<text class="t" x="1139" y="1471">22%</text><text class="t" x="1139" y="1484">(18/81)</text>
<text class="t" x="1168" y="1477">17%</text><text class="t" x="1168" y="1490">(2/12)</text>
<text class="t" x="1196" y="1482">12%</text><text class="t" x="1196" y="1495">(1/8)</text>
<text class="t" x="1225" y="1502">0%</text>
<text class="cl" x="170" y="1514">MRI abnormalities</text>
<text class="cl" x="296" y="1514">Corpus callosum</text><text class="cl" x="296" y="1526">abnormality</text>
<text class="cl" x="423" y="1514">Enlarged ventricles</text>
<text class="cl" x="550" y="1514">Epilepsy</text><text class="cl" x="550" y="1526">(or one seizure)</text>
<text class="cl" x="677" y="1514">Febrile seizures</text>
<text class="cl" x="804" y="1514">Status epilepticus</text>
<text class="cl" x="930" y="1514">Drug−resistance</text><text class="cl" x="930" y="1526">(epilepsy)</text>
<text class="cl" x="1056" y="1514">Nystagmus</text>
<text class="cl" x="1182" y="1514">Ataxia</text>

<!-- bottom legend -->
<rect class="c1" x="568" y="1541" width="11" height="11"/><text class="lg" x="584" y="1550">n.64_65insT</text>
<rect class="c2" x="568" y="1556" width="11" height="11"/><text class="lg" x="584" y="1566">Other quasi−pseudoknot</text>
<rect class="c3" x="693" y="1541" width="11" height="11"/><text class="lg" x="709" y="1550">n.76C&gt;T</text>
<rect class="c4" x="693" y="1556" width="11" height="11"/><text class="lg" x="709" y="1566">Other stem III</text>
<path d="M831 1543H850L840.5 1559Z" fill="#000"/>
<text x="857" y="1557" style="font-size:15px">Depletion (Fisher's 2x2)</text>
<text class="ast" x="1077" y="1573">*</text>
<text x="1093" y="1557" style="font-size:15px">Significant (Fisher's 2x3/2x4)</text>
</svg>
</body></html>
